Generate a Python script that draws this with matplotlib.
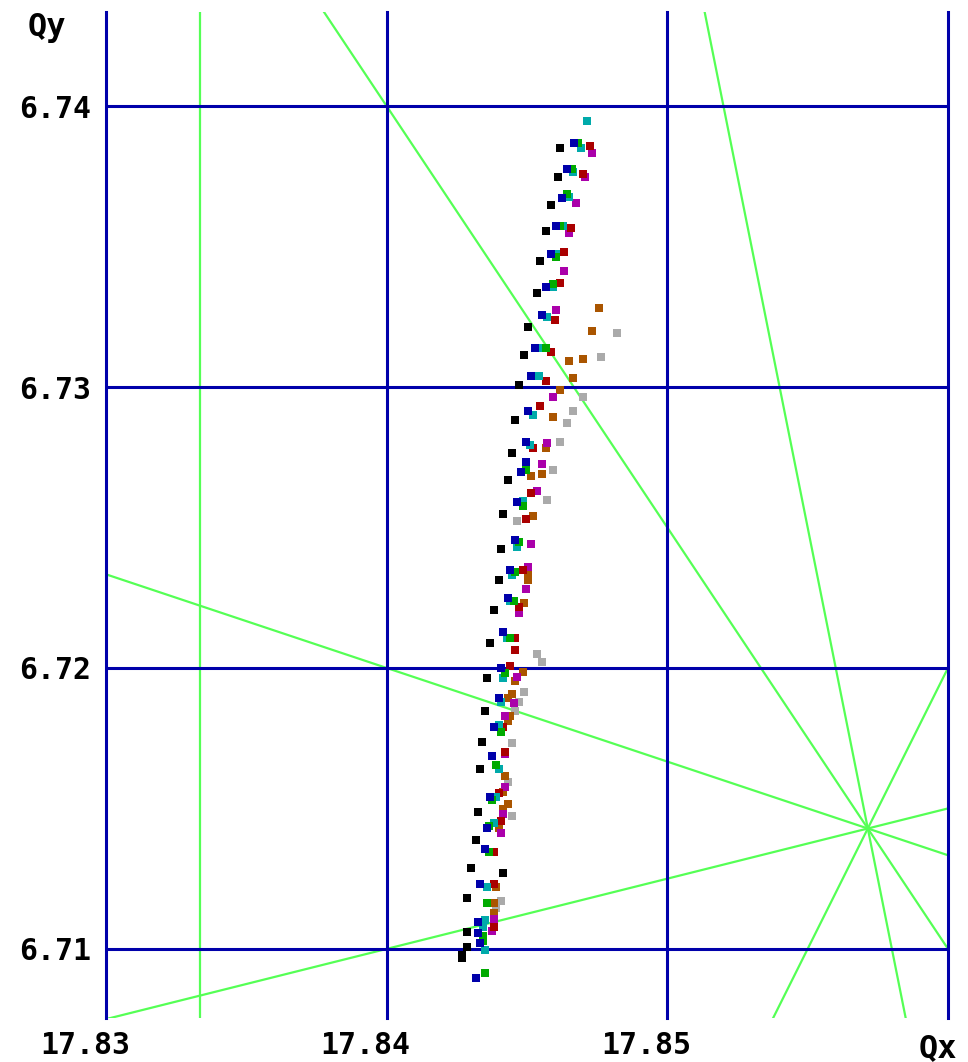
import matplotlib
matplotlib.use("Agg")
import matplotlib.pyplot as plt
import matplotlib.transforms as mtransforms
import numpy as np

# Tune-diagram window
qx_ticks = [17.83, 17.84, 17.85, 17.86]
qy_ticks = [6.71, 6.72, 6.73, 6.74]
qx_tick_labels = ["17.83", "17.84", "17.85", ""]
qy_tick_labels = ["6.71", "6.72", "6.73", "6.74"]
qx_range = (17.83, 17.86)
qy_range = (6.70754, 6.74335)

# Resonance lines a*Qx + b*Qy = n
res_a = [6, 3, 1, -1, 5, 2]
res_b = [0, 2, 3, 4, 1, -1]
res_n = [107, 67, 38, 9, 96, 29]

# Tune footprint, one series per colour
black_qx = [17.84616, 17.84609, 17.84584, 17.84566, 17.84548, 17.84534, 17.84505, 17.84491,
            17.84473, 17.84459, 17.84448, 17.84431, 17.84416, 17.84406, 17.84399, 17.84381,
            17.84367, 17.84359, 17.84349, 17.84338, 17.84331, 17.84324, 17.84317, 17.84299,
            17.84288, 17.84288, 17.84285, 17.84270, 17.84270, 17.84416]
black_qy = [6.73851, 6.73747, 6.73648, 6.73555, 6.73448, 6.73335, 6.73214, 6.73114,
            6.73007, 6.72883, 6.72765, 6.72669, 6.72548, 6.72423, 6.72313, 6.72206,
            6.72089, 6.71964, 6.71847, 6.71737, 6.71641, 6.71488, 6.71388, 6.71288,
            6.71182, 6.71061, 6.71007, 6.70979, 6.70968, 6.71270]

blue_qx = [17.84669, 17.84644, 17.84623, 17.84605, 17.84587, 17.84569, 17.84555, 17.84530,
           17.84516, 17.84505, 17.84498, 17.84498, 17.84480, 17.84463, 17.84459, 17.84441,
           17.84431, 17.84416, 17.84406, 17.84399, 17.84381, 17.84374, 17.84367, 17.84356,
           17.84349, 17.84331, 17.84327, 17.84327, 17.84331, 17.84317]
blue_qy = [6.73868, 6.73776, 6.73673, 6.73573, 6.73473, 6.73356, 6.73256, 6.73139,
           6.73039, 6.72915, 6.72804, 6.72733, 6.72698, 6.72591, 6.72456, 6.72349,
           6.72249, 6.72128, 6.72000, 6.71893, 6.71790, 6.71687, 6.71541, 6.71431,
           6.71356, 6.71231, 6.71096, 6.71057, 6.71021, 6.70897]

green_qx = [17.84683, 17.84662, 17.84641, 17.84619, 17.84605, 17.84591, 17.84569, 17.84495,
            17.84484, 17.84473, 17.84459, 17.84452, 17.84441, 17.84423, 17.84409, 17.84388,
            17.84374, 17.84363, 17.84363, 17.84356, 17.84342, 17.84342, 17.84349]
green_qy = [6.73868, 6.73776, 6.73687, 6.73573, 6.73463, 6.73367, 6.73139, 6.72705,
            6.72577, 6.72448, 6.72342, 6.72238, 6.72107, 6.71982, 6.71772, 6.71655,
            6.71530, 6.71438, 6.71345, 6.71164, 6.71046, 6.71028, 6.70915]

cyan_qx = [17.84715, 17.84694, 17.84665, 17.84648, 17.84630, 17.84605, 17.84591, 17.84573,
           17.84552, 17.84541, 17.84523, 17.84509, 17.84484, 17.84466, 17.84448, 17.84441,
           17.84427, 17.84416, 17.84409, 17.84402, 17.84399, 17.84388, 17.84384, 17.84356,
           17.84349, 17.84345, 17.84349]
cyan_qy = [6.73947, 6.73851, 6.73765, 6.73676, 6.73573, 6.73473, 6.73356, 6.73249,
           6.73139, 6.73039, 6.72900, 6.72794, 6.72594, 6.72431, 6.72331, 6.72238,
           6.72107, 6.71964, 6.71879, 6.71797, 6.71641, 6.71541, 6.71448, 6.71221,
           6.71103, 6.71078, 6.70996]

red_qx = [17.84726, 17.84698, 17.84658, 17.84633, 17.84616, 17.84601, 17.84584, 17.84566,
          17.84548, 17.84523, 17.84516, 17.84498, 17.84484, 17.84473, 17.84459, 17.84459,
          17.84441, 17.84413, 17.84423, 17.84402, 17.84409, 17.84381, 17.84381, 17.84381]
red_qy = [6.73858, 6.73758, 6.73566, 6.73480, 6.73370, 6.73238, 6.73125, 6.73021,
          6.72932, 6.72783, 6.72623, 6.72530, 6.72349, 6.72217, 6.72107, 6.72064,
          6.72007, 6.71790, 6.71701, 6.71555, 6.71456, 6.71345, 6.71231, 6.71078]

magenta_qx = [17.84733, 17.84708, 17.84673, 17.84648, 17.84633, 17.84605, 17.84591, 17.84573,
              17.84552, 17.84534, 17.84516, 17.84505, 17.84498, 17.84473, 17.84466, 17.84452,
              17.84423, 17.84423, 17.84423, 17.84413, 17.84409, 17.84381, 17.84374]
magenta_qy = [6.73833, 6.73747, 6.73655, 6.73548, 6.73413, 6.73274, 6.72964, 6.72801,
              6.72726, 6.72630, 6.72441, 6.72359, 6.72281, 6.72196, 6.71968, 6.71875,
              6.71829, 6.71694, 6.71577, 6.71480, 6.71413, 6.71107, 6.71064]

brown_qx = [17.84758, 17.84733, 17.84698, 17.84648, 17.84665, 17.84616, 17.84591, 17.84566,
            17.84552, 17.84516, 17.84523, 17.84505, 17.84505, 17.84491, 17.84484, 17.84459,
            17.84448, 17.84434, 17.84438, 17.84431, 17.84423, 17.84413, 17.84431, 17.84413,
            17.84399, 17.84391, 17.84381, 17.84381]
brown_qy = [6.73281, 6.73199, 6.73100, 6.73093, 6.73032, 6.72989, 6.72893, 6.72783,
            6.72690, 6.72683, 6.72541, 6.72342, 6.72313, 6.72231, 6.71986, 6.71954,
            6.71907, 6.71893, 6.71829, 6.71811, 6.71616, 6.71559, 6.71516, 6.71498,
            6.71431, 6.71221, 6.71164, 6.71128]

gray_qx = [17.84819, 17.84765, 17.84698, 17.84665, 17.84641, 17.84616, 17.84591, 17.84573,
           17.84466, 17.84534, 17.84552, 17.84488, 17.84470, 17.84459, 17.84448, 17.84431,
           17.84448, 17.84406, 17.84391]
gray_qy = [6.73192, 6.73107, 6.72964, 6.72915, 6.72872, 6.72804, 6.72705, 6.72598,
           6.72523, 6.72050, 6.72021, 6.71915, 6.71879, 6.71847, 6.71733, 6.71594,
           6.71473, 6.71171, 6.71146]

series = [
    (gray_qx, gray_qy, "#aaaaaa"),
    (brown_qx, brown_qy, "#aa5500"),
    (magenta_qx, magenta_qy, "#aa00aa"),
    (red_qx, red_qy, "#aa0000"),
    (cyan_qx, cyan_qy, "#00aaaa"),
    (green_qx, green_qy, "#00aa00"),
    (blue_qx, blue_qy, "#0000aa"),
    (black_qx, black_qy, "#000000"),
]

W, H, DPI = 968, 1062, 100
fig = plt.figure(figsize=(W / DPI, H / DPI), dpi=DPI, facecolor="white")
ax = fig.add_axes([106 / W, 44 / H, 842 / W, 1006 / H])
ax.set_facecolor("white")
ax.set_xlim(*qx_range)
ax.set_ylim(*qy_range)
for s in ax.spines.values():
    s.set_visible(False)

# resonance lines
xs = np.linspace(qx_range[0] - 0.01, qx_range[1] + 0.01, 400)
for a, b, n in zip(res_a, res_b, res_n):
    if b == 0:
        ax.axvline(n / a, color="#55ff55", lw=1.6, zorder=1)
    else:
        ax.plot(xs, (n - a * xs) / b, color="#55ff55", lw=1.6, zorder=1)

# grid
for q in qx_ticks:
    ax.axvline(q, color="#0000aa", lw=2.2, zorder=2, clip_on=False)
for q in qy_ticks:
    ax.axhline(q, color="#0000aa", lw=2.2, zorder=2)

# footprint
for qx, qy, c in series:
    ax.plot(qx, qy, ls="none", marker="s", ms=5.2, mew=0, color=c, zorder=3)

font = dict(family="DejaVu Sans Mono", weight="bold", size=21.5)
ax.set_xticks(qx_ticks)
ax.set_xticklabels(qx_tick_labels, **font)
ax.set_yticks(qy_ticks)
ax.set_yticklabels(qy_tick_labels, **font)
ax.tick_params(length=0)
ax.tick_params(axis="y", pad=11)
ax.tick_params(axis="x", pad=9)
shift = mtransforms.ScaledTranslation(-21 / DPI, 0, fig.dpi_scale_trans)
for lab in ax.get_xticklabels():
    lab.set_transform(lab.get_transform() + shift)

ax.text(-0.070, 0.985, "Qy", transform=ax.transAxes, ha="center", va="center",
        family="DejaVu Sans Mono", weight="bold", size=23)
ax.text(0.988, -0.030, "Qx", transform=ax.transAxes, ha="center", va="center",
        family="DejaVu Sans Mono", weight="bold", size=23)

fig.savefig("out.png", dpi=DPI, facecolor="white")
